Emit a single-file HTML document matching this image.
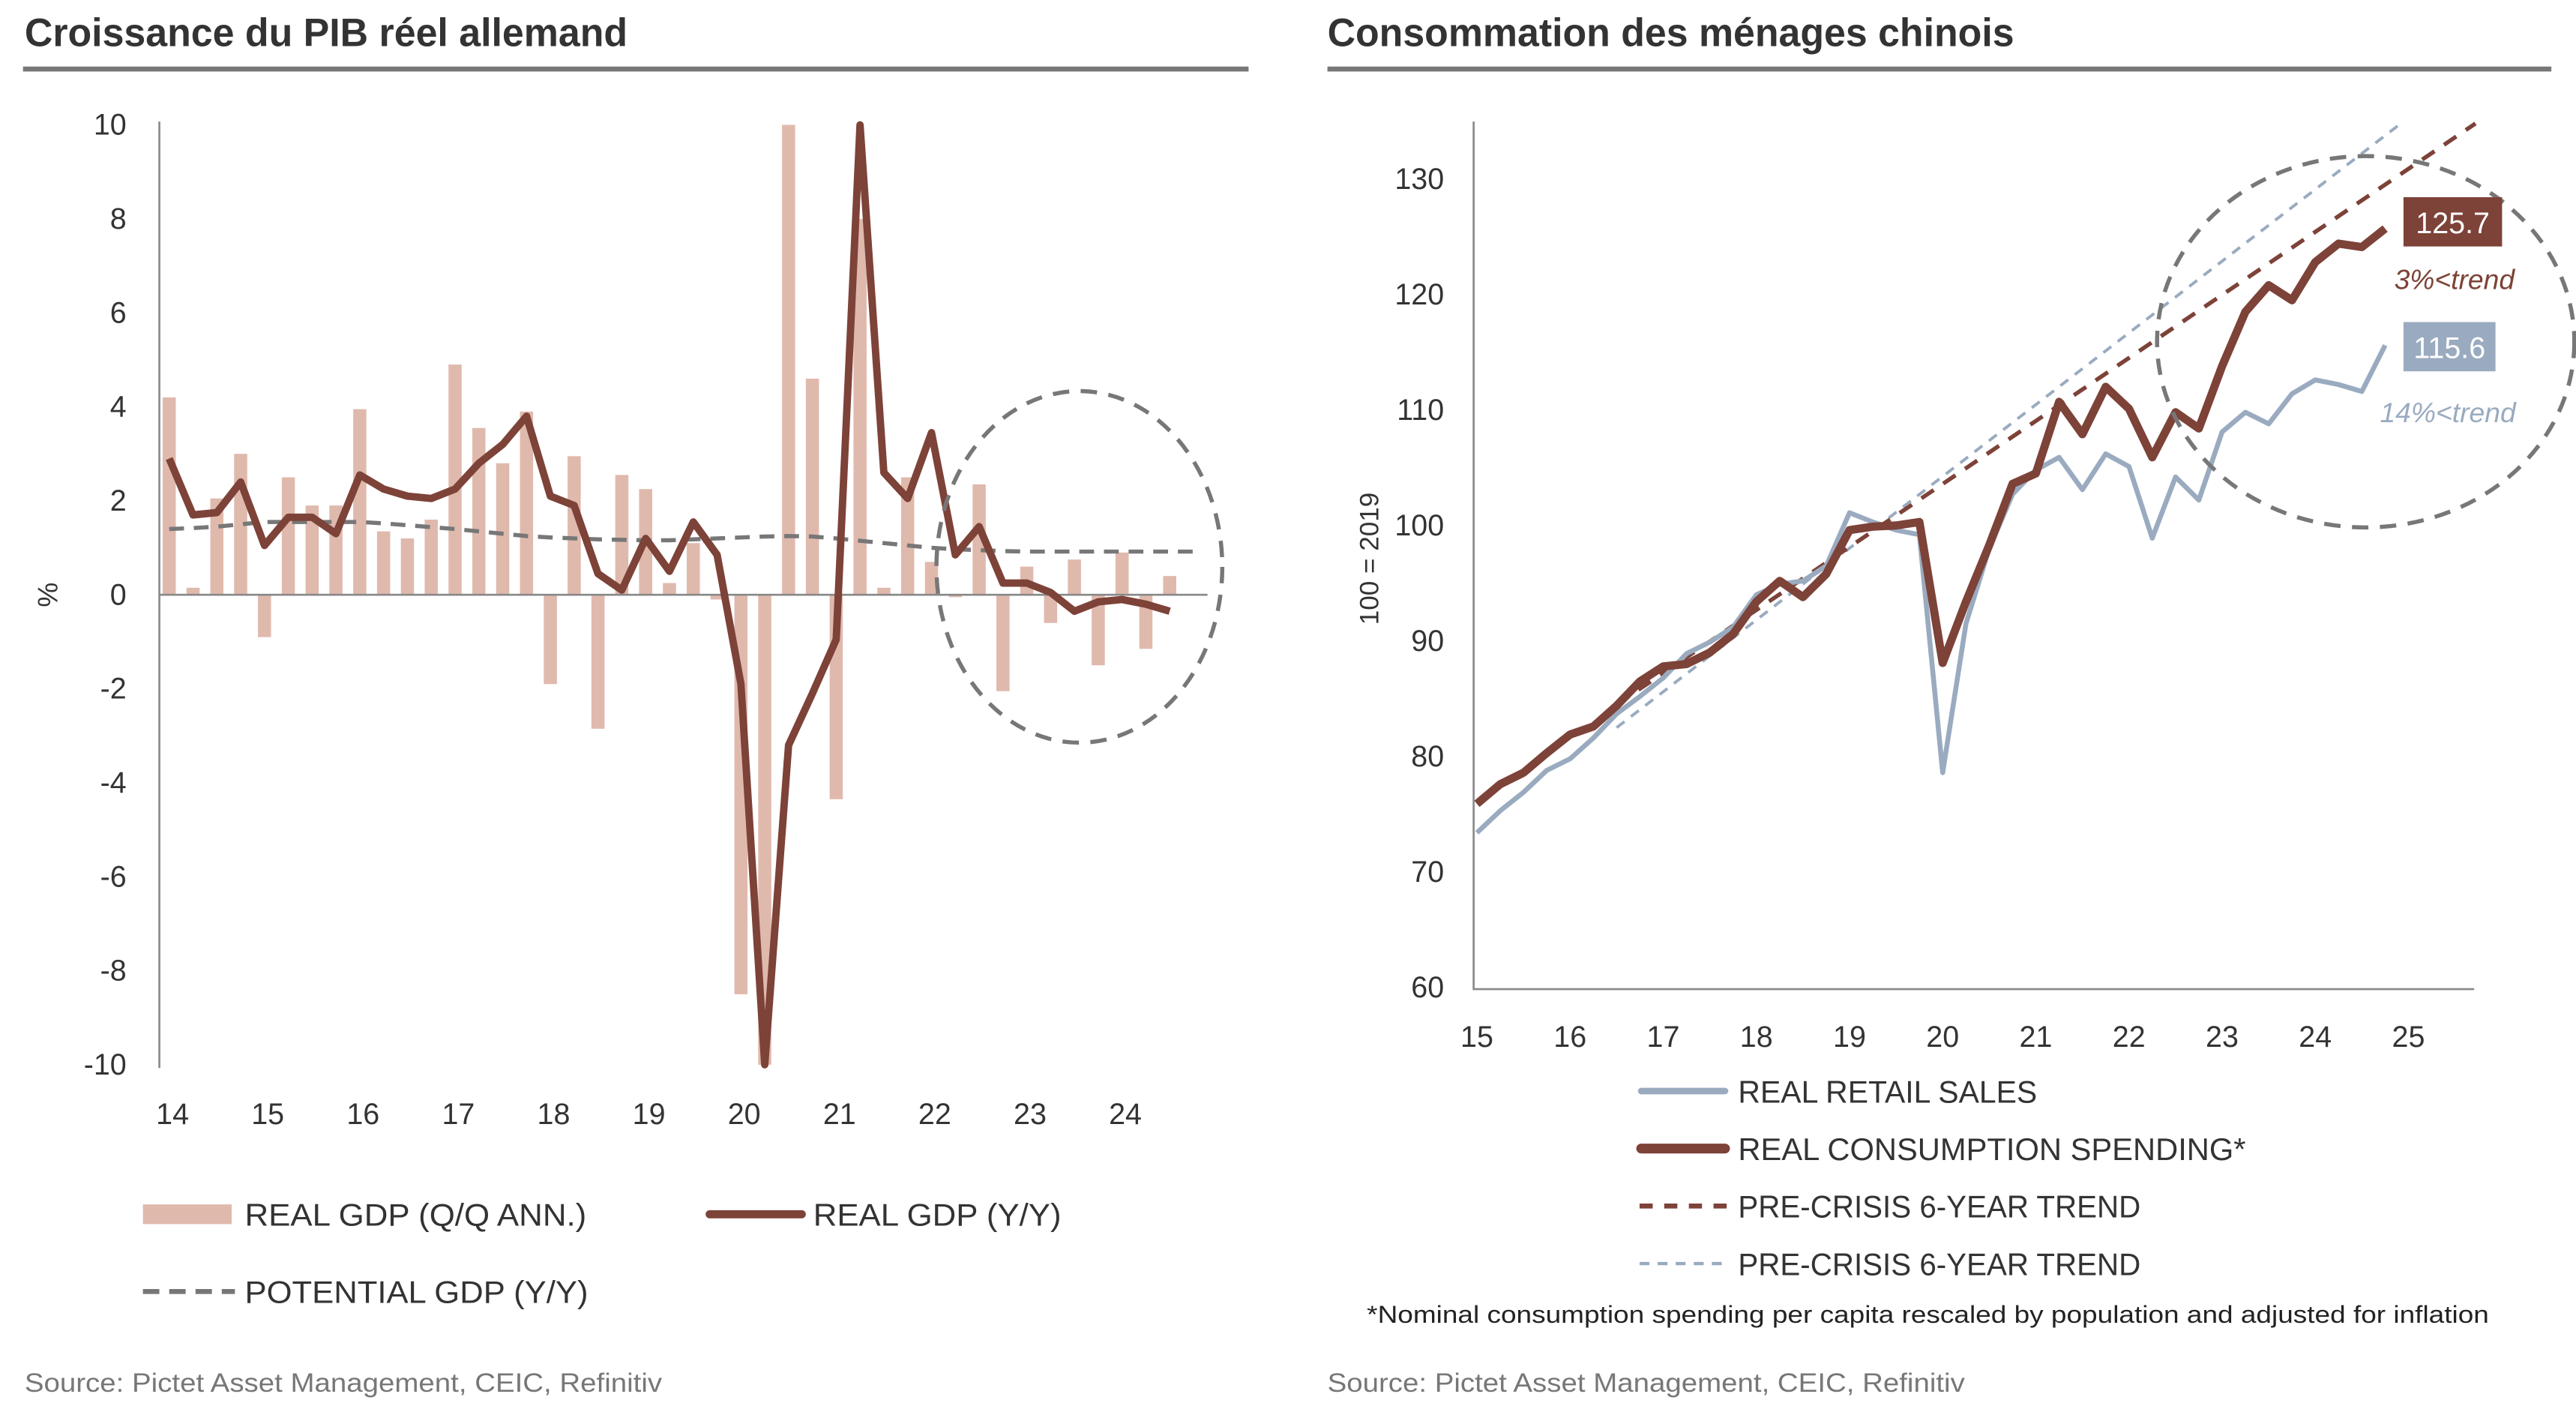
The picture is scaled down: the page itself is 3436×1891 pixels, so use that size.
<!DOCTYPE html>
<html><head><meta charset="utf-8"><style>
html,body{margin:0;padding:0;background:#fff;}
svg{display:block;font-family:"Liberation Sans",sans-serif;}
</style></head><body>
<svg id="root" width="3436" height="1891" viewBox="0 0 1568 863" preserveAspectRatio="none" xmlns="http://www.w3.org/2000/svg">
<g>
<text x="15" y="28" font-size="24" font-weight="bold" fill="#333" textLength="367" lengthAdjust="spacingAndGlyphs">Croissance du PIB réel allemand</text>
<line x1="14" y1="42" x2="760" y2="42" stroke="#777" stroke-width="3"/>
<g id="leftPlot"></g>
<text transform="translate(35,362) rotate(-90)" text-anchor="middle" font-size="17" fill="#333">%</text>
<g>
<rect x="87" y="733" width="54" height="12" fill="#e0b9ad"/>
<text x="149" y="746" font-size="19" fill="#333" textLength="208" lengthAdjust="spacingAndGlyphs">REAL GDP (Q/Q ANN.)</text>
<line x1="432" y1="739" x2="488" y2="739" stroke="#7d4238" stroke-width="5" stroke-linecap="round"/>
<text x="495" y="746" font-size="19" fill="#333" textLength="151" lengthAdjust="spacingAndGlyphs">REAL GDP (Y/Y)</text>
<line x1="87" y1="786" x2="143" y2="786" stroke="#777" stroke-width="3" stroke-dasharray="10,6"/>
<text x="149" y="793" font-size="19" fill="#333" textLength="209" lengthAdjust="spacingAndGlyphs">POTENTIAL GDP (Y/Y)</text>
</g>
<text x="15" y="847" font-size="16" fill="#777" textLength="388" lengthAdjust="spacingAndGlyphs">Source: Pictet Asset Management, CEIC, Refinitiv</text>
</g>
<g>
<text x="808" y="28" font-size="24" font-weight="bold" fill="#333" textLength="418" lengthAdjust="spacingAndGlyphs">Consommation des ménages chinois</text>
<line x1="808" y1="42" x2="1553" y2="42" stroke="#777" stroke-width="3"/>
<g id="rightPlot"></g>
<text transform="translate(839,340) rotate(-90)" text-anchor="middle" font-size="16" fill="#333">100 = 2019</text>
<g>
<line x1="999" y1="664" x2="1050" y2="664" stroke="#9aabc0" stroke-width="4" stroke-linecap="round"/>
<text x="1058" y="671" font-size="19" fill="#333" textLength="182" lengthAdjust="spacingAndGlyphs">REAL RETAIL SALES</text>
<line x1="999" y1="699" x2="1050" y2="699" stroke="#7d4238" stroke-width="6" stroke-linecap="round"/>
<text x="1058" y="706" font-size="19" fill="#333" textLength="309" lengthAdjust="spacingAndGlyphs">REAL CONSUMPTION SPENDING*</text>
<line x1="998" y1="734" x2="1052" y2="734" stroke="#7d4238" stroke-width="3" stroke-dasharray="8,7"/>
<text x="1058" y="741" font-size="19" fill="#333" textLength="245" lengthAdjust="spacingAndGlyphs">PRE-CRISIS 6-YEAR TREND</text>
<line x1="998" y1="769" x2="1052" y2="769" stroke="#9aabc0" stroke-width="2" stroke-dasharray="6,5"/>
<text x="1058" y="776" font-size="19" fill="#333" textLength="245" lengthAdjust="spacingAndGlyphs">PRE-CRISIS 6-YEAR TREND</text>
<text x="832" y="805" font-size="15" fill="#222" textLength="683" lengthAdjust="spacingAndGlyphs">*Nominal consumption spending per capita rescaled by population and adjusted for inflation</text>
</g>
<text x="808" y="847" font-size="16" fill="#777" textLength="388" lengthAdjust="spacingAndGlyphs">Source: Pictet Asset Management, CEIC, Refinitiv</text>
</g>
</svg>
<script>
const NS='http://www.w3.org/2000/svg';
// ---------- Left chart data ----------
const leftYTicks=[10,8,6,4,2,0,-2,-4,-6,-8,-10];
const leftXLabels=['14','15','16','17','18','19','20','21','22','23','24'];
const gdpQoQ=[4.2,0.15,2.05,3.0,-0.9,2.5,1.9,1.9,3.95,1.35,1.2,1.6,4.9,3.55,2.8,3.9,-1.9,2.95,-2.85,2.55,2.25,0.25,1.1,-0.1,-8.5,-10,10,4.6,-4.35,8,0.15,2.5,0.7,-0.05,2.35,-2.05,0.6,-0.6,0.75,-1.5,0.9,-1.15,0.4];
const gdpYoY=[2.9,1.7,1.75,2.4,1.05,1.65,1.65,1.3,2.55,2.25,2.1,2.05,2.25,2.8,3.2,3.8,2.1,1.9,0.45,0.1,1.2,0.5,1.55,0.85,-1.9,-10,-3.2,-2.1,-0.95,10,2.6,2.05,3.45,0.85,1.45,0.25,0.25,0.05,-0.35,-0.15,-0.1,-0.2,-0.35];
const potentialGDP=[1.4,1.42,1.45,1.5,1.55,1.55,1.55,1.55,1.55,1.52,1.48,1.44,1.4,1.35,1.3,1.25,1.22,1.2,1.18,1.17,1.16,1.16,1.18,1.2,1.22,1.24,1.25,1.24,1.2,1.15,1.1,1.05,1.0,0.97,0.95,0.93,0.92,0.92,0.92,0.92,0.92,0.92,0.92,0.92];
// ---------- Right chart data ----------
const rightYTicks=[60,70,80,90,100,110,120,130];
const rightXLabels=['15','16','17','18','19','20','21','22','23','24','25'];
const consumption=[75.9,77.6,78.6,80.3,81.9,82.6,84.4,86.5,87.8,88,89,90.6,93.4,95.2,93.8,95.8,99.6,99.9,100,100.3,88.1,93.4,98.3,103.6,104.5,110.7,107.9,112,110.1,105.9,109.8,108.4,113.8,118.5,120.8,119.5,122.8,124.4,124.1,125.7];
const retail=[73.4,75.3,76.9,78.8,79.8,81.6,83.7,85.2,86.8,88.9,89.9,91.2,94,94.9,95.2,96.5,101.1,100.3,99.6,99.2,78.6,91.5,98,102.7,104.8,105.9,103.1,106.2,105.1,98.9,104.2,102.2,108.1,109.8,108.8,111.4,112.6,112.2,111.6,115.6];
const trendBrownYears=[16.5,25.72];
const trendBrownValues=[84.5,134.8];
const trendBlueYears=[16.5,24.95];
const trendBlueValues=[82.5,135];
const endLabels=['125.7','115.6'];
const gapLabels=['3%<trend','14%<trend'];

function el(tag,attrs,parent){const e=document.createElementNS(NS,tag);for(const k in attrs)e.setAttribute(k,attrs[k]);parent.appendChild(e);return e;}

// Left axes
const L=document.getElementById('leftPlot');
const lx0=103, lstep=14.5;
const lxq=i=>lx0+i*lstep;
const ly=v=>362-v*28.6;
leftYTicks.forEach(t=>{const tx=el('text',{x:77,y:ly(t)+6,'text-anchor':'end','font-size':18,fill:'#333'},L);tx.textContent=t;

});
leftXLabels.forEach((t,i)=>{const tx=el('text',{x:lxq(i*4)+2,y:684,'text-anchor':'middle','font-size':18,fill:'#333'},L);tx.textContent=t;

});
gdpQoQ.forEach((v,i)=>{const c=Math.max(-10,Math.min(10,v));const y0=ly(0),y1=ly(c);
const r=el('rect',{x:lxq(i)-4,y:Math.min(y0,y1),width:8,height:Math.abs(y1-y0),fill:'#e0b9ad'},L);

});
const la=el('line',{x1:97,y1:74,x2:97,y2:650,stroke:'#888','stroke-width':1.2},L);


const lz=el('line',{x1:97,y1:ly(0),x2:735,y2:ly(0),stroke:'#888','stroke-width':1.2},L);


const pp=el('polyline',{points:potentialGDP.map((v,i)=>lxq(i)+','+ly(v)).join(' '),fill:'none',stroke:'#777','stroke-width':2.5,'stroke-dasharray':'9,6'},L);


const yy=el('polyline',{points:gdpYoY.map((v,i)=>lxq(i)+','+ly(v)).join(' '),fill:'none',stroke:'#7d4238','stroke-width':4.5,'stroke-linejoin':'round'},L);


const lc=el('ellipse',{cx:657,cy:345,rx:87,ry:107,fill:'none',stroke:'#777','stroke-width':2.5,'stroke-dasharray':'10,7'},L);



// Right axes
const R=document.getElementById('rightPlot');
const rx=yr=>899+(yr-15)*56.7;
const ry=v=>601-(v-60)*7.03;
const rq=i=>rx(15+i*0.25);
rightYTicks.forEach(t=>{const tx=el('text',{x:879,y:ry(t)+6,'text-anchor':'end','font-size':18,fill:'#333'},R);tx.textContent=t;

});
rightXLabels.forEach((t,i)=>{const tx=el('text',{x:rx(15+i),y:637,'text-anchor':'middle','font-size':18,fill:'#333'},R);tx.textContent=t;

});
const ra=el('polyline',{points:'897,74 897,602 1506,602',fill:'none',stroke:'#888','stroke-width':1.2},R);


const tb=el('line',{x1:rx(trendBlueYears[0]),y1:ry(trendBlueValues[0]),x2:rx(trendBlueYears[1]),y2:ry(trendBlueValues[1]),stroke:'#9aabc0','stroke-width':1.8,'stroke-dasharray':'6,5'},R);


const tr=el('line',{x1:rx(trendBrownYears[0]),y1:ry(trendBrownValues[0]),x2:rx(trendBrownYears[1]),y2:ry(trendBrownValues[1]),stroke:'#7d4238','stroke-width':2.5,'stroke-dasharray':'9,7'},R);


const rl=el('polyline',{points:retail.map((v,i)=>rq(i)+','+ry(v)).join(' '),fill:'none',stroke:'#9aabc0','stroke-width':3,'stroke-linejoin':'round'},R);


const cl=el('polyline',{points:consumption.map((v,i)=>rq(i)+','+ry(v)).join(' '),fill:'none',stroke:'#7d4238','stroke-width':5,'stroke-linejoin':'round'},R);


const rc=el('ellipse',{cx:1440,cy:208,rx:127,ry:113,fill:'none',stroke:'#777','stroke-width':2.5,'stroke-dasharray':'10,7'},R);


const b1=el('rect',{x:1463,y:120,width:60,height:30,fill:'#7d4238'},R);


const t1=el('text',{x:1493,y:142,'text-anchor':'middle','font-size':18,fill:'#fff'},R);t1.textContent=endLabels[0];


const g1=el('text',{x:1494,y:176,'text-anchor':'middle','font-size':17,'font-style':'italic',fill:'#7d4238'},R);g1.textContent=gapLabels[0];


const b2=el('rect',{x:1463,y:196,width:56,height:30,fill:'#9aabc0'},R);


const t2=el('text',{x:1491,y:218,'text-anchor':'middle','font-size':18,fill:'#fff'},R);t2.textContent=endLabels[1];


const g2=el('text',{x:1490,y:257,'text-anchor':'middle','font-size':17,'font-style':'italic',fill:'#9aabc0'},R);g2.textContent=gapLabels[1];


</script>
</body></html>
